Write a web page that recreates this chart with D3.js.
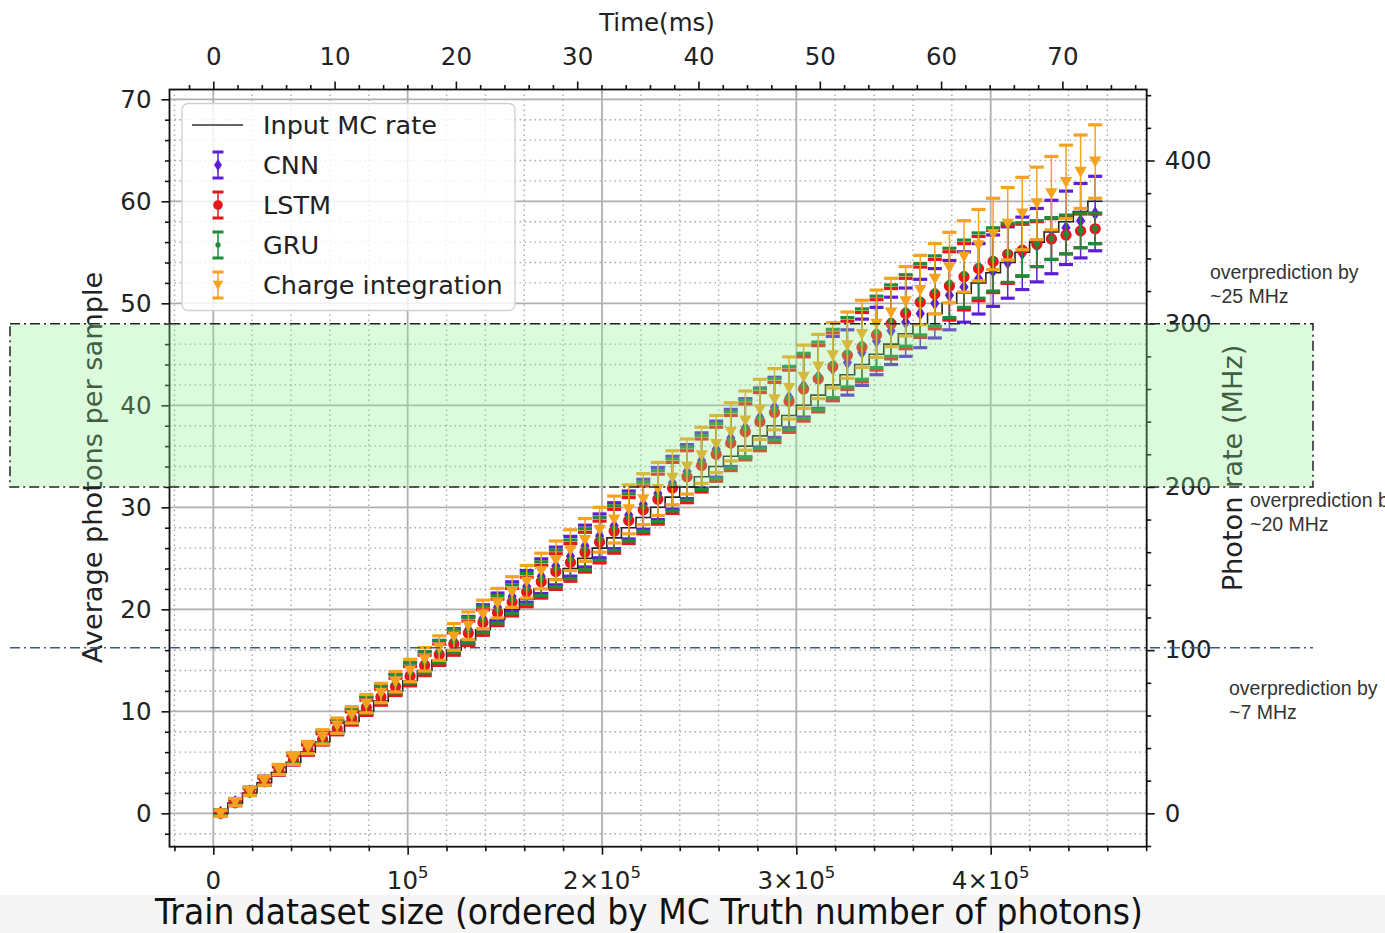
<!DOCTYPE html>
<html><head><meta charset="utf-8">
<script src="https://cdn.jsdelivr.net/npm/d3@7"></script>
<style>body{margin:0;background:#fff}svg{display:block}</style>
</head><body>
<svg id="c" width="1385" height="933"></svg>
<script>
// ---------------- DATA ----------------
const binCenters = [3750, 11250, 18750, 26250, 33750, 41250, 48750, 56250, 63750, 71250,
  78750, 86250, 93750, 101250, 108750, 116250, 123750, 131250, 138750, 146250,
  153750, 161250, 168750, 176250, 183750, 191250, 198750, 206250, 213750, 221250,
  228750, 236250, 243750, 251250, 258750, 266250, 273750, 281250, 288750, 296250,
  303750, 311250, 318750, 326250, 333750, 341250, 348750, 356250, 363750, 371250,
  378750, 386250, 393750, 401250, 408750, 416250, 423750, 431250, 438750, 446250, 453750];
const mcRate = [0,1,2,3,4,5,6,7,8,9,10,11,12,13,14,15,16,17,18,19,20,21,22,23,24,25,26,27,28,29,
  30,31,32,33,34,35,36,37,38,39,40,41,42,43,44,45,46,47,48,49,50,51,52,53,54,55,56,57,58,59,60];
const cnnVal = [0.05,1.1,2.15,3.2,4.25,5.3,6.35,7.4,8.45,9.5,10.55,11.6,12.65,13.7,14.75,15.8,16.9,18.0,19.1,20.2,
  21.25,22.25,23.25,24.25,25.2,26.2,27.2,28.2,29.25,30.3,31.35,32.4,33.5,34.6,35.7,36.8,37.8,38.8,39.8,40.8,
  41.9,42.8,43.6,44.2,45.2,46.3,47.3,48.15,49.0,50.0,50.8,51.6,52.4,53.2,54.0,54.9,55.7,56.5,57.4,58.1,58.8];
const cnnErr = [0.3,0.35,0.4,0.45,0.5,0.55,0.6,0.65,0.7,0.75,0.85,0.9,0.95,1.05,1.1,1.15,1.2,1.3,1.35,1.4,
  1.45,1.55,1.7,1.85,1.95,2.05,2.15,2.25,2.35,2.45,2.55,2.6,2.65,2.7,2.75,2.8,2.85,2.9,2.95,3.0,
  3.05,3.1,3.15,3.2,3.25,3.3,3.3,3.35,3.35,3.4,3.4,3.45,3.45,3.5,3.5,3.55,3.6,3.6,3.6,3.65,3.65];
const lstmVal = [0.0,1.05,2.1,3.1,4.15,5.2,6.2,7.25,8.3,9.3,10.35,11.4,12.4,13.45,14.5,15.55,16.6,17.65,18.7,19.7,
  20.7,21.7,22.7,23.7,24.6,25.6,26.6,27.65,28.7,29.75,30.8,31.9,33.0,34.1,35.2,36.3,37.4,38.4,39.3,40.4,
  41.6,42.6,43.8,44.9,45.7,46.9,48.0,49.0,50.1,50.9,51.7,52.6,53.4,54.1,54.8,55.2,55.8,56.3,56.7,57.1,57.3];
const lstmErr = [0.2,0.25,0.3,0.35,0.4,0.45,0.5,0.55,0.6,0.65,0.75,0.8,0.85,0.95,1.0,1.05,1.1,1.2,1.25,1.3,
  1.35,1.45,1.6,1.75,1.85,1.95,2.05,2.15,2.25,2.35,2.45,2.5,2.55,2.6,2.65,2.7,2.75,2.85,2.95,3.05,
  3.15,3.25,3.3,3.35,3.4,3.45,3.45,3.45,3.45,3.4,3.35,3.25,3.15,3.05,2.85,2.55,2.2,2.0,1.85,1.65,1.45];
const gruVal = [0.05,1.15,2.2,3.2,4.3,5.4,6.4,7.5,8.55,9.55,10.65,11.7,12.7,13.75,14.8,15.85,16.9,17.95,19.0,20.0,
  21.0,22.0,23.0,24.0,24.9,25.9,26.9,27.95,29.0,30.05,31.1,32.2,33.3,34.4,35.5,36.6,37.7,38.7,39.6,40.7,
  41.9,42.9,44.1,45.2,46.0,47.2,48.3,49.3,50.4,51.2,52.0,52.9,53.7,54.3,54.95,55.3,55.85,56.35,56.75,57.15,57.35];
const gruErr = [0.25,0.3,0.35,0.4,0.45,0.5,0.55,0.6,0.65,0.7,0.8,0.85,0.9,1.0,1.05,1.1,1.15,1.25,1.3,1.35,
  1.4,1.5,1.65,1.8,1.9,2.0,2.1,2.2,2.3,2.4,2.5,2.55,2.6,2.65,2.7,2.75,2.8,2.9,3.0,3.1,
  3.2,3.3,3.35,3.4,3.45,3.5,3.5,3.5,3.5,3.45,3.4,3.3,3.2,3.1,2.9,2.6,2.25,2.05,1.9,1.7,1.5];
const ciVal = [0.0,1.1,2.15,3.2,4.3,5.35,6.45,7.5,8.6,9.65,10.75,11.8,12.9,14.0,15.1,16.2,17.3,18.4,19.5,20.6,
  21.7,22.7,23.75,24.8,25.8,26.8,27.8,28.8,29.8,30.8,31.8,32.9,34.0,35.1,36.2,37.4,38.5,39.6,40.6,41.7,
  42.8,43.8,44.9,45.9,47.0,48.0,49.1,50.2,51.3,52.4,53.5,54.6,55.7,56.8,57.8,58.8,59.8,60.8,61.9,62.9,63.9];
const ciErr = [0.3,0.35,0.4,0.45,0.5,0.55,0.6,0.7,0.75,0.8,0.9,0.95,1.0,1.1,1.15,1.2,1.3,1.35,1.4,1.45,
  1.5,1.6,1.75,1.9,2.0,2.1,2.2,2.3,2.4,2.5,2.6,2.65,2.7,2.75,2.8,2.85,2.9,2.95,3.0,3.05,
  3.1,3.15,3.2,3.25,3.3,3.3,3.35,3.4,3.4,3.45,3.45,3.5,3.5,3.5,3.55,3.55,3.55,3.6,3.6,3.6,3.6];

const leftTicks = [0,10,20,30,40,50,60,70];
const bottomTicks = [0,100000,200000,300000,400000];
const bottomTickLabels = [["0",""],["10","5"],["2×10","5"],["3×10","5"],["4×10","5"]];
const topTicks = [0,10,20,30,40,50,60,70];
const rightTicks = [0,100,200,300,400];
const seriesNames = ["Input MC rate","CNN","LSTM","GRU","Charge integration"];
const annotations = [
  {lines:["overprediction by","~25 MHz"], x:1210, y:279},
  {lines:["overprediction by","~20 MHz"], x:1250, y:507},
  {lines:["overprediction by","~7 MHz"], x:1229, y:695}
];

// ---------------- LAYOUT ----------------
const svg = d3.select("#c");
const L = 169.5, R = 1146.7, T = 89.5, B = 846.7;
const FONT = "'DejaVu Sans', sans-serif";
const x = d3.scaleLinear().domain([-22540, 480270]).range([L, R]);
const y = d3.scaleLinear().domain([-3.27, 70.96]).range([B, T]);
const xt = d3.scaleLinear().domain([-3.61, 76.95]).range([L, R]);
const yr = d3.scaleLinear().domain([-3.27 * 6.25, 70.96 * 6.25]).range([B, T]);

svg.append("rect").attr("width", 1385).attr("height", 933).attr("fill", "#fff");
svg.append("rect").attr("x", 0).attr("y", 895).attr("width", 1385).attr("height", 38).attr("fill", "#f5f5f5");

const xMinor = d3.range(-20000, 480001, 20000).filter(v => v % 100000 !== 0);
const yMinor = d3.range(-2, 71, 2).filter(v => v % 10 !== 0);
const tMinor = d3.range(-2, 77, 2).filter(v => v % 10 !== 0);
const rMinor = d3.range(-20, 441, 20).filter(v => v % 100 !== 0);

// grid
const grid = svg.append("g");
grid.selectAll(".vm").data(xMinor).join("line")
  .attr("x1", d => x(d)).attr("x2", d => x(d)).attr("y1", T).attr("y2", B)
  .attr("stroke", "#a9a9a9").attr("stroke-width", 1.4).attr("stroke-dasharray", "1.6,3.4");
grid.selectAll(".hm").data(yMinor).join("line")
  .attr("y1", d => y(d)).attr("y2", d => y(d)).attr("x1", L).attr("x2", R)
  .attr("stroke", "#a9a9a9").attr("stroke-width", 1.4).attr("stroke-dasharray", "1.6,3.4");
grid.selectAll(".vM").data(bottomTicks).join("line")
  .attr("x1", d => x(d)).attr("x2", d => x(d)).attr("y1", T).attr("y2", B)
  .attr("stroke", "#b0b0b0").attr("stroke-width", 1.8);
grid.selectAll(".hM").data(leftTicks).join("line")
  .attr("y1", d => y(d)).attr("y2", d => y(d)).attr("x1", L).attr("x2", R)
  .attr("stroke", "#b0b0b0").attr("stroke-width", 1.8);

// MC staircase
const half = (binCenters[1] - binCenters[0]) / 2;
const stepPts = binCenters.map((c, i) => [c - half, mcRate[i]]);
stepPts.push([binCenters[binCenters.length - 1] + half, mcRate[mcRate.length - 1]]);
svg.append("path").datum(stepPts)
  .attr("d", d3.line().x(d => x(d[0])).y(d => y(d[1])).curve(d3.curveStepAfter))
  .attr("fill", "none").attr("stroke", "#222").attr("stroke-width", 1.6);

// series
const COL = {cnn: "#5a1ed8", lstm: "#e8161b", gru: "#1f8a3a", ci: "#f5a31e"};
const markers = {
  diamond: "M0,-7L4.6,0L0,7L-4.6,0Z",
  circle: d3.symbol(d3.symbolCircle, 100)(),
  point: d3.symbol(d3.symbolCircle, 30)(),
  tri: "M-6.2,-5L6.2,-5L0,6Z"
};
function drawSeries(vals, errs, color, mk) {
  const g = svg.append("g");
  const d = vals.map((v, i) => ({cx: x(binCenters[i]), v, e: errs[i]}));
  g.selectAll(".bar").data(d).join("line")
    .attr("x1", p => p.cx).attr("x2", p => p.cx)
    .attr("y1", p => y(p.v - p.e)).attr("y2", p => y(p.v + p.e))
    .attr("stroke", color).attr("stroke-width", 1.5);
  g.selectAll(".capT").data(d).join("line")
    .attr("x1", p => p.cx - 7).attr("x2", p => p.cx + 7)
    .attr("y1", p => y(p.v + p.e)).attr("y2", p => y(p.v + p.e))
    .attr("stroke", color).attr("stroke-width", 3.2);
  g.selectAll(".capB").data(d).join("line")
    .attr("x1", p => p.cx - 7).attr("x2", p => p.cx + 7)
    .attr("y1", p => y(p.v - p.e)).attr("y2", p => y(p.v - p.e))
    .attr("stroke", color).attr("stroke-width", 3.2);
  g.selectAll(".mk").data(d).join("path")
    .attr("d", markers[mk]).attr("transform", p => `translate(${p.cx},${y(p.v)})`)
    .attr("fill", color);
}
drawSeries(cnnVal, cnnErr, COL.cnn, "diamond");
drawSeries(lstmVal, lstmErr, COL.lstm, "circle");
drawSeries(gruVal, gruErr, COL.gru, "point");
drawSeries(ciVal, ciErr, COL.ci, "tri");

// axes
function styleAxis(g, fs) {
  g.select(".domain").remove();
  g.selectAll("line").attr("stroke", "#111").attr("stroke-width", 1.6);
  g.selectAll("text").attr("font-size", fs).attr("font-family", FONT).attr("fill", "#222");
}
svg.append("g").attr("transform", `translate(${L},0)`)
  .call(d3.axisLeft(y).tickValues(leftTicks).tickSize(8).tickPadding(10)).call(g => styleAxis(g, 24.5));
svg.append("g").attr("transform", `translate(${L},0)`)
  .call(d3.axisLeft(y).tickValues(yMinor).tickSize(4.5).tickFormat("")).call(g => styleAxis(g, 0));
svg.append("g").attr("transform", `translate(0,${B})`)
  .call(d3.axisBottom(x).tickValues(bottomTicks).tickSize(8).tickFormat("")).call(g => styleAxis(g, 0));
svg.append("g").attr("transform", `translate(0,${B})`)
  .call(d3.axisBottom(x).tickValues(xMinor).tickSize(4.5).tickFormat("")).call(g => styleAxis(g, 0));
svg.append("g").attr("transform", `translate(0,${T})`)
  .call(d3.axisTop(xt).tickValues(topTicks).tickSize(8).tickPadding(17)).call(g => styleAxis(g, 24.5));
svg.append("g").attr("transform", `translate(0,${T})`)
  .call(d3.axisTop(xt).tickValues(tMinor).tickSize(4.5).tickFormat("")).call(g => styleAxis(g, 0));
svg.append("g").attr("transform", `translate(${R},0)`)
  .call(d3.axisRight(yr).tickValues(rightTicks).tickSize(8).tickPadding(10)).call(g => styleAxis(g, 24.5));
svg.append("g").attr("transform", `translate(${R},0)`)
  .call(d3.axisRight(yr).tickValues(rMinor).tickSize(4.5).tickFormat("")).call(g => styleAxis(g, 0));

// bottom tick labels with superscripts
bottomTicks.forEach((v, i) => {
  const t = svg.append("text").attr("x", x(v)).attr("y", B + 42)
    .attr("text-anchor", "middle").attr("font-family", FONT).attr("font-size", 24.5).attr("fill", "#222");
  t.append("tspan").text(bottomTickLabels[i][0]);
  if (bottomTickLabels[i][1]) t.append("tspan").attr("font-size", 16.5).attr("dy", -11).text(bottomTickLabels[i][1]);
});

// spines
svg.append("rect").attr("x", L).attr("y", T).attr("width", R - L).attr("height", B - T)
  .attr("fill", "none").attr("stroke", "#111").attr("stroke-width", 1.8);

// legend
const lg = svg.append("g");
lg.append("rect").attr("x", 182).attr("y", 103.5).attr("width", 333).attr("height", 207).attr("rx", 6)
  .attr("fill", "#fff").attr("fill-opacity", 0.82).attr("stroke", "#d0d0d0").attr("stroke-width", 1.3);
const legY = [125, 165, 205, 245, 285];
lg.append("line").attr("x1", 192).attr("x2", 243).attr("y1", legY[0]).attr("y2", legY[0])
  .attr("stroke", "#333").attr("stroke-width", 1.5);
const legSeries = [[COL.cnn, "diamond"], [COL.lstm, "circle"], [COL.gru, "point"], [COL.ci, "tri"]];
legSeries.forEach(([c, mk], k) => {
  const yy = legY[k + 1], cx = 218;
  lg.append("line").attr("x1", cx).attr("x2", cx).attr("y1", yy - 13).attr("y2", yy + 13).attr("stroke", c).attr("stroke-width", 1.5);
  lg.append("line").attr("x1", cx - 5.5).attr("x2", cx + 5.5).attr("y1", yy - 13).attr("y2", yy - 13).attr("stroke", c).attr("stroke-width", 3);
  lg.append("line").attr("x1", cx - 5.5).attr("x2", cx + 5.5).attr("y1", yy + 13).attr("y2", yy + 13).attr("stroke", c).attr("stroke-width", 3);
  lg.append("path").attr("d", markers[mk]).attr("transform", `translate(${cx},${yy}) scale(0.85)`).attr("fill", c);
});
seriesNames.forEach((n, k) => {
  lg.append("text").attr("x", 263).attr("y", legY[k] + 9).attr("font-family", FONT).attr("font-size", 25.5)
    .attr("fill", "#222").text(n);
});

// axis titles
svg.append("text").attr("x", 657).attr("y", 31).attr("text-anchor", "middle")
  .attr("font-family", FONT).attr("font-size", 24.5).attr("fill", "#222").text("Time(ms)");
svg.append("text").attr("transform", "translate(102,467.5) rotate(-90)").attr("text-anchor", "middle")
  .attr("font-family", FONT).attr("font-size", 27.2).attr("fill", "#222").text("Average photons per sample");
svg.append("text").attr("transform", "translate(1242,468) rotate(-90)").attr("text-anchor", "middle")
  .attr("font-family", FONT).attr("font-size", 27.2).attr("fill", "#222").text("Photon rate (MHz)");
svg.append("text").attr("x", 155).attr("y", 924).attr("font-family", FONT).attr("font-size", 35)
  .attr("textLength", 988).attr("lengthAdjust", "spacingAndGlyphs").attr("fill", "#111")
  .text("Train dataset size (ordered by MC Truth number of photons)");

// highlighted band (200-300 MHz) and 100 MHz line
const bx0 = 10, bx1 = 1313;
svg.append("rect").attr("x", bx0).attr("y", yr(300)).attr("width", bx1 - bx0).attr("height", yr(200) - yr(300))
  .attr("fill", "rgb(140,238,140)").attr("fill-opacity", 0.3)
  .attr("stroke", "#222").attr("stroke-width", 1.5).attr("stroke-dasharray", "10,4,2,4");
svg.append("line").attr("x1", bx0).attr("x2", bx1).attr("y1", yr(101.5)).attr("y2", yr(101.5))
  .attr("stroke", "#3c5a82").attr("stroke-width", 1.4).attr("stroke-dasharray", "10,4,2,4");

// annotations
annotations.forEach(a => {
  a.lines.forEach((ln, k) => {
    svg.append("text").attr("x", a.x).attr("y", a.y + k * 23.5)
      .attr("font-family", "'Liberation Sans', Arial, sans-serif").attr("font-size", 19.5)
      .attr("fill", "#333").text(ln);
  });
});
</script>
</body></html>
